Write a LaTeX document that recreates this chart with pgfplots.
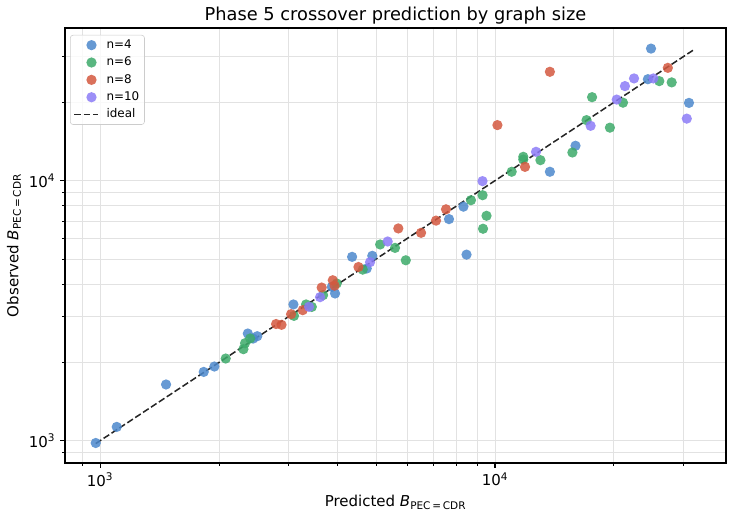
\documentclass[border=0pt]{standalone}
\usepackage{fontspec}
\setmainfont{DejaVu Sans}
\usepackage{pgfplots}
\pgfplotsset{compat=1.18}

\definecolor{cfour}{HTML}{4C88CC}
\definecolor{csix}{HTML}{3DAA6A}
\definecolor{ceight}{HTML}{D4583F}
\definecolor{cten}{HTML}{8C7BF7}
\definecolor{gridgray}{HTML}{E2E2E2}

\pgfplotsset{
  dot/.style={only marks, mark=*, mark size=3.7pt, color=#1,
    mark options={fill=#1, draw opacity=0, fill opacity=0.85},
    legend image code/.code={%
      \path[draw=none] (0pt,0pt) (17.3pt,0pt);
      \draw[##1] plot coordinates {(12.5pt,0pt)};}},
  refline/.style={black!85, line width=1.1pt, dash pattern=on 4.8pt off 2pt,
    legend image code/.code={\draw[##1] (0pt,0pt) -- (17.3pt,0pt);}},
}

\begin{document}
\begin{tikzpicture}
\useasboundingbox (0,0) rectangle (527.76pt,371.52pt);
\begin{axis}[
  at={(46.8pt,38.16pt)}, anchor=south west,
  scale only axis, width=475.92pt, height=313.2pt,
  xmode=log, ymode=log,
  xmin=815, xmax=38460, ymin=821, ymax=38650,
  xtick={1000,10000}, xticklabels={10\textsuperscript{3},10\textsuperscript{4}},
  ytick={1000,10000}, yticklabels={10\textsuperscript{3},10\textsuperscript{4}},
  minor xtick={900,2000,3000,4000,5000,6000,7000,8000,9000,20000,30000},
  minor ytick={900,2000,3000,4000,5000,6000,7000,8000,9000,20000,30000},
  tick pos=left, tick align=outside,
  major tick length=3.5pt, minor tick length=2pt,
  every major tick/.style={black, line width=0.8pt},
  every minor tick/.style={black, line width=0.6pt},
  grid=both,
  major grid style={gridgray, line width=0.6pt},
  minor grid style={gridgray, line width=0.6pt},
  axis line style={line width=0.8pt},
  title={Phase 5 crossover prediction by graph size},
  title style={font=\fontsize{12.8}{15}\selectfont,
    at={(axis description cs:0.5,1.0172)}, anchor=base, yshift=-6pt},
  label style={font=\fontsize{10.8}{13}\selectfont},
  tick label style={font=\fontsize{10.8}{13}\selectfont},
  xlabel={Predicted \textit{B}\textsubscript{PEC\,=\,CDR}},
  ylabel={Observed \textit{B}\textsubscript{PEC\,=\,CDR}},
  xlabel style={at={(axis description cs:0.5,-0.1011)}, anchor=base},
  ylabel style={at={(axis description cs:-0.0707,0.5)}, anchor=base, rotate=0},
  legend cell align=left,
  legend style={at={(0.0076,0.984)}, anchor=north west,
    draw=black!20, rounded corners=2pt, fill=white, fill opacity=0.8,
    text opacity=1, font=\fontsize{8.6}{10}\selectfont,
    row sep=1.2pt, column sep=4pt, inner xsep=2.2pt, inner ysep=1.5pt,
    nodes={inner sep=1.5pt, text height=6.5pt, text depth=1.8pt}},
]

% n = 4
\addplot[dot=cfour] table {
x y
975 980
1102 1130
1469 1645
1830 1839
1947 1929
2366 2583
2500 2523
2440 2470
3087 3342
3862 3905
3936 3683
4346 5093
4733 4593
4889 5140
7648 7114
8318 7944
8470 5194
13770 10820
15990 13620
24380 24550
24830 32200
30980 19910
};
\addlegendentry{n=4}

% n = 6
\addplot[dot=csix] table {
x y
2080 2070
2306 2249
2328 2371
2399 2473
3097 3021
3323 3342
3436 3270
3670 3630
3974 4024
4624 4548
5118 5683
5582 5514
5944 4941
8690 8410
9300 8790
9517 7326
9325 6533
11020 10820
11790 12350
11790 12050
13030 11990
15700 12830
17050 17090
17610 20940
19540 15990
21090 19950
26060 24140
28010 23870
};
\addlegendentry{n=6}

% n = 8
\addplot[dot=ceight] table {
x y
2790 2810
2880 2790
3045 3066
3259 3177
3640 3882
3883 4140
3925 3946
4510 4655
5690 6550
6498 6300
7090 7020
7515 7760
10140 16354
11910 11300
13770 26220
27390 27150
};
\addlegendentry{n=8}

% n = 10
\addplot[dot=cten] table {
x y
3606 3565
3381 3273
4826 4860
5348 5835
9296 9957
12700 12910
17460 16250
20330 20500
21330 23100
22490 24720
25170 24720
30590 17320
};
\addlegendentry{n=10}

% reference line y = x
\addplot[refline] coordinates {(975,975) (32000,32000)};
\addlegendentry{ideal}

\end{axis}
\end{tikzpicture}
\end{document}
